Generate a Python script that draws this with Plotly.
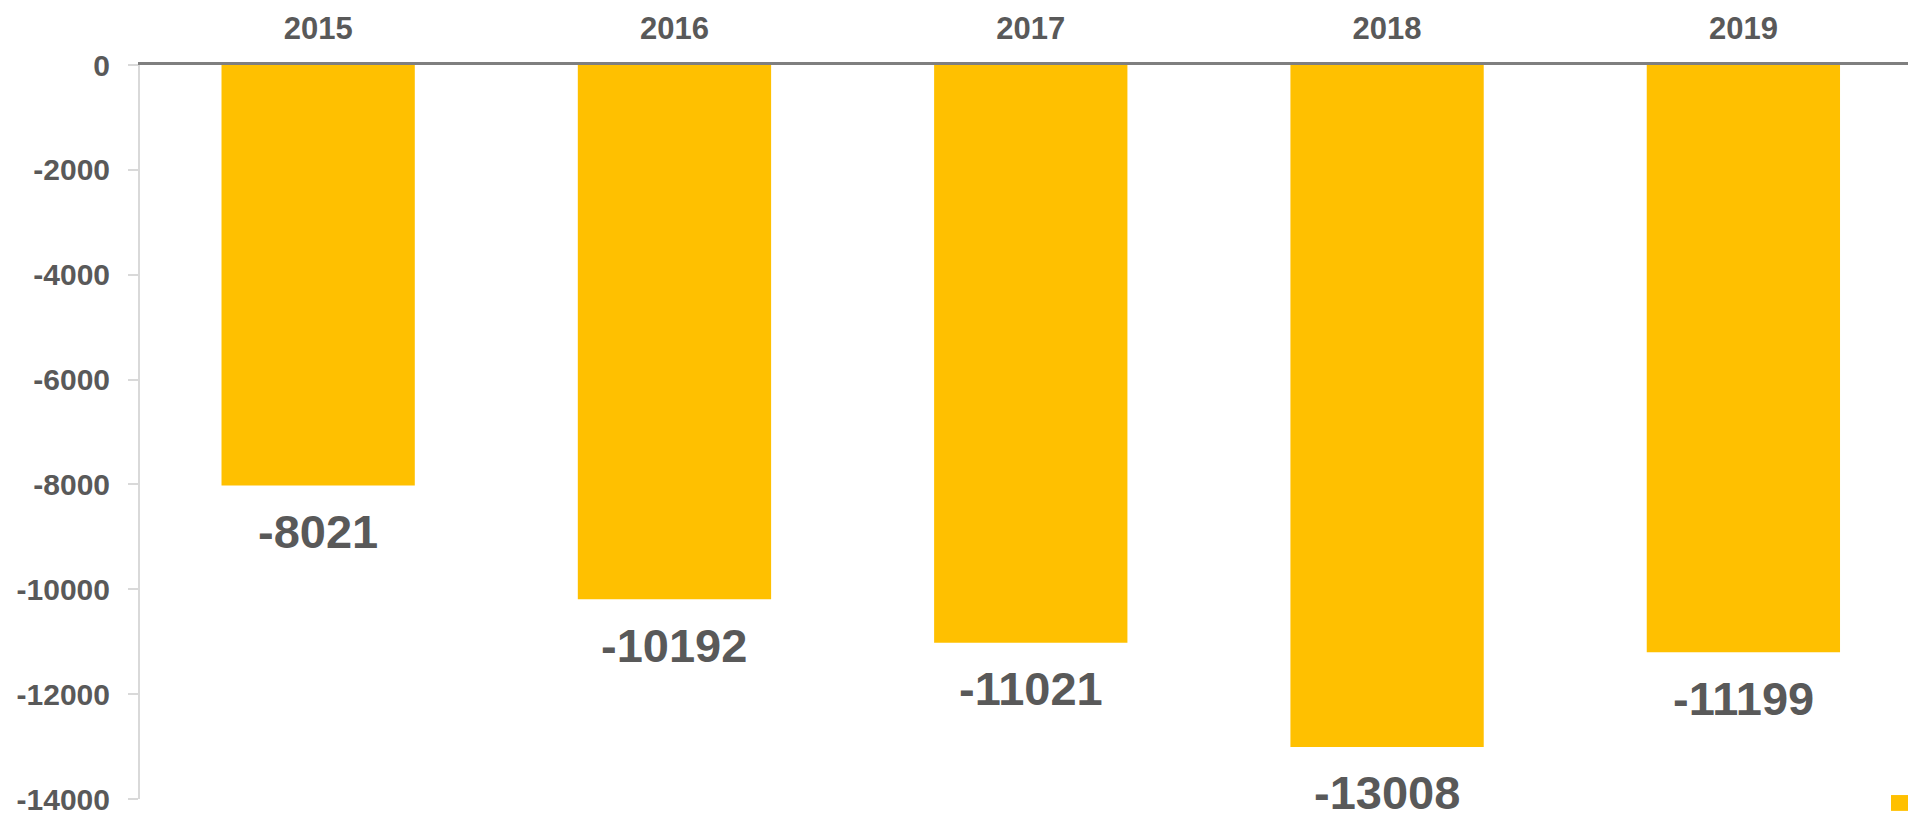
import plotly.graph_objects as go

years = ["2015", "2016", "2017", "2018", "2019"]
values = [-8021, -10192, -11021, -13008, -11199]
y_ticks = [0, -2000, -4000, -6000, -8000, -10000, -12000, -14000]

BAR = "#FFC000"
TXT = "#595959"
FONT = "Liberation Sans, Arial, sans-serif"

fig = go.Figure()
fig.add_trace(go.Bar(
    x=years, y=values, marker_color=BAR, marker_line_width=0,
    width=0.5425, showlegend=False, hoverinfo="x+y",
))

for i, v in enumerate(values):
    fig.add_annotation(
        x=i, y=v, xref="x", yref="y", text=str(v), showarrow=False,
        xanchor="center", yanchor="middle", yshift=-46,
        font=dict(family=FONT, size=47, color=TXT, weight="bold"),
    )

# partial legend key at bottom right
fig.add_shape(type="rect", xref="paper", yref="paper",
              x0=0.9904, x1=1.0, y0=-0.0162, y1=0.0054,
              fillcolor=BAR, line_width=0, layer="above")

fig.update_layout(
    width=1908, height=816,
    margin=dict(l=140, r=0, t=65, b=12),
    paper_bgcolor="white", plot_bgcolor="white",
    font=dict(family=FONT, color=TXT),
    xaxis=dict(
        type="category", side="top", range=[-0.5, 4.462],
        showline=True, linecolor="#7F7F7F", linewidth=3,
        ticks="", showgrid=False, zeroline=False,
        tickfont=dict(family=FONT, size=31, color=TXT, weight="bold"),
        ticklabelstandoff=11,
    ),
    yaxis=dict(
        range=[-14000, 0], tickvals=y_ticks, ticktext=[str(t) for t in y_ticks],
        showline=True, linecolor="#D9D9D9", linewidth=2,
        ticks="outside", ticklen=10, tickcolor="#D9D9D9", tickwidth=2,
        showgrid=False, zeroline=False, ticklabeloverflow="allow",
        tickfont=dict(family=FONT, size=30, color=TXT, weight="bold"),
        ticklabelstandoff=12,
    ),
)

fig.write_html("out.html", config={"displayModeBar": False},
               post_script="document.body.style.margin='0';document.body.style.overflow='hidden';")
